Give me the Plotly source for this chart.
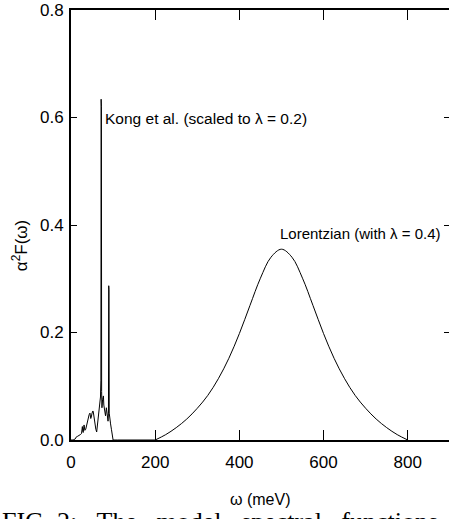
import plotly.graph_objects as go

# Kong et al. spectrum (scaled to lambda = 0.2), omega in meV
kong_w = [0, 5, 10, 13, 16, 19, 22, 25, 26, 27, 28, 29, 31, 32, 33, 35, 37, 39, 41, 43, 45, 46, 47,
          48, 50, 52, 53, 55, 57, 59, 61, 63, 65, 67, 69, 70, 71, 71.6, 72.2, 72.8, 73.5, 75, 77,
          78, 80, 82, 84, 86, 88, 89, 89.6, 90.2, 90.8, 92, 94, 96, 98, 99, 100, 110, 200]
kong_y = [0, 0, 0.002, 0.006, 0.007, 0.008, 0.010, 0.012, 0.022, 0.025, 0.016, 0.014, 0.028, 0.020,
          0.018, 0.020, 0.028, 0.034, 0.040, 0.047, 0.050, 0.046, 0.040, 0.042, 0.050, 0.054, 0.052,
          0.040, 0.028, 0.020, 0.015, 0.030, 0.045, 0.055, 0.062, 0.080, 0.110, 0.634, 0.620, 0.090,
          0.060, 0.075, 0.082, 0.065, 0.058, 0.045, 0.060, 0.045, 0.035, 0.050, 0.287, 0.280, 0.050,
          0.035, 0.030, 0.020, 0.012, 0.006, 0, 0, 0]

# Lorentzian model (with lambda = 0.4)
lor_w = [200, 225, 250, 275, 300, 325, 350, 375, 400, 425, 450, 475, 500,
         525, 550, 575, 600, 625, 650, 675, 700, 725, 750, 775, 800]
lor_y = [0.0, 0.010, 0.023, 0.039, 0.059, 0.083, 0.114, 0.152, 0.198, 0.250, 0.301, 0.340, 0.355,
         0.340, 0.301, 0.250, 0.198, 0.152, 0.114, 0.083, 0.059, 0.039, 0.023, 0.010, 0.0]

x_ticks = [0, 200, 400, 600, 800]
y_ticks = [0.0, 0.2, 0.4, 0.6, 0.8]
y_tick_text = ["0.0", "0.2", "0.4", "0.6", "0.8"]

SANS = "Liberation Sans, Arial, sans-serif"
SERIF = "Liberation Serif, Times New Roman, serif"

fig = go.Figure()
fig.add_trace(go.Scatter(x=kong_w, y=kong_y, mode="lines",
                         line=dict(color="black", width=1), showlegend=False))
fig.add_trace(go.Scatter(x=lor_w, y=lor_y, mode="lines", line_shape="spline",
                         line=dict(color="black", width=1), showlegend=False))
# trace on the right-hand tick axis (drawn under the Lorentzian start point)
fig.add_trace(go.Scatter(x=[200], y=[0], yaxis="y2", mode="lines",
                         line=dict(color="black", width=1), showlegend=False,
                         hoverinfo="skip"))

fig.update_layout(
    width=449, height=519,
    margin=dict(l=71, r=0, t=10, b=79),
    paper_bgcolor="white", plot_bgcolor="white",
    font=dict(family=SANS, size=16, color="black"),
    xaxis=dict(range=[0, 898], tickvals=x_ticks, ticks="inside", ticklen=10,
               tickwidth=1, tickcolor="black", showline=True, linecolor="black",
               linewidth=2, mirror="ticks", showgrid=False, zeroline=False,
               tickfont=dict(family=SANS, size=17), ticklabelstandoff=6),
    yaxis=dict(range=[0, 0.8], tickvals=y_ticks, ticktext=y_tick_text, ticks="inside",
               ticklen=6, tickwidth=1, tickcolor="black", showline=True,
               linecolor="black", linewidth=2, showgrid=False, zeroline=False,
               tickfont=dict(family=SANS, size=17), ticklabelstandoff=2),
    yaxis2=dict(range=[0, 0.8], overlaying="y", side="right", tickvals=[0.2, 0.4, 0.6],
                ticks="inside", ticklen=5, tickwidth=1, tickcolor="black",
                showticklabels=False, showline=False, showgrid=False, zeroline=False),
    annotations=[
        dict(x=76, y=0.599, xref="x", yref="y", text="Kong et al. (scaled to λ = 0.2)",
             showarrow=False, xanchor="left", yanchor="middle",
             font=dict(family=SANS, size=15.5)),
        dict(x=884, y=0.385, xref="x", yref="y", text="Lorentzian (with λ = 0.4)",
             showarrow=False, xanchor="right", yanchor="middle",
             font=dict(family=SANS, size=15)),
        dict(x=0.5, y=-0.1395, xref="paper", yref="paper", text="ω (meV)",
             showarrow=False, xanchor="center", yanchor="middle",
             font=dict(family=SANS, size=16)),
        dict(x=-0.135, y=0.453, xref="paper", yref="paper", text="α<sup>2</sup>F(ω)",
             showarrow=False, xanchor="center", yanchor="middle", textangle=-90,
             font=dict(family=SANS, size=17)),
        dict(x=-0.188, y=-0.151, xref="paper", yref="paper",
             text="FIG. 2: \u2002The\u2002 model\u2002 spectral\u2002 functions",
             showarrow=False, xanchor="left", yanchor="top",
             font=dict(family=SERIF, size=26)),
    ],
)

fig.write_html("out.html", config={"displayModeBar": False},
               post_script="document.body.style.margin='0';")
